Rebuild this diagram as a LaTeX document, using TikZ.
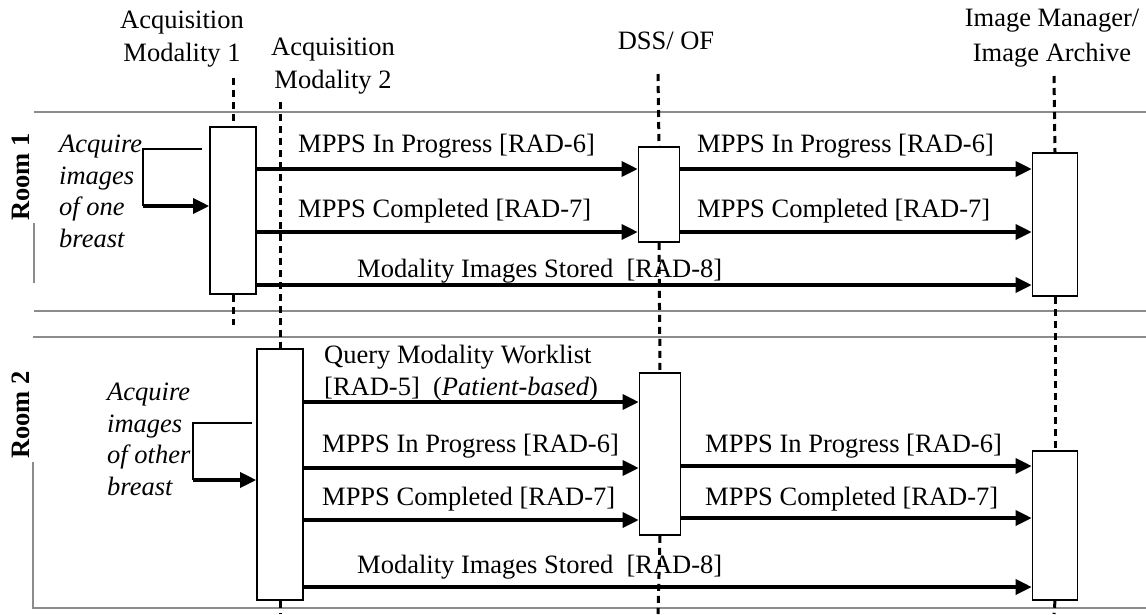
\documentclass[tikz,border=0pt]{standalone}
\usepackage{fontspec}
\setmainfont{Liberation Serif}
\usetikzlibrary{arrows.meta}
\begin{document}
\begin{tikzpicture}[x=1pt,y=-1pt,
  font=\fontsize{26.5}{31.5}\selectfont,
  act/.style={draw,line width=1.6pt,fill=white,inner sep=0pt,minimum width=46pt},
  life/.style={line width=3pt,dash pattern=on 7pt off 5pt},
  msg/.style={line width=3.4pt,-{Triangle[length=16pt,width=15pt]}},
  band/.style={line width=1.6pt,black!45},
  lbl/.style={anchor=base west,inner sep=0pt},
  note/.style={anchor=base west,inner sep=0pt,align=left,font=\fontsize{26.5}{31.5}\selectfont\itshape}]
  \useasboundingbox (0,0) rectangle (1146,614);
  % rooms
  \draw [band] (1146,112) -- (34,112);
  \draw [band] (34,223) -- (34,283);
  \draw [band] (34,311) -- (1146,311);
  \draw [band] (1146,337) -- (33,337);
  \draw [band] (33,462) -- (33,608) -- (1146,608);
  \node [rotate=90,inner sep=0pt,font=\fontsize{26.5}{31.5}\selectfont\bfseries] (room1) at (21,177) {Room 1};
  \node [rotate=90,inner sep=0pt,font=\fontsize{26.5}{31.5}\selectfont\bfseries] (room2) at (21,415) {Room 2};
  % actors
  \node [align=center,inner sep=0pt,font=\fontsize{26.5}{33}\selectfont] (am1name) at (182,39) {Acquisition\\Modality 1};
  \node [align=center,inner sep=0pt,font=\fontsize{26.5}{33}\selectfont] (am2name) at (333,66) {Acquisition\\Modality 2};
  \node [inner sep=0pt] (dssname) at (666,41) {DSS/ OF};
  \node [align=center,inner sep=0pt,font=\fontsize{26.5}{35}\selectfont] (imname) at (1052,38) {Image Manager/\\Image Archive};
  \coordinate (am1top) at (233,78);
  \coordinate (am1bot) at (233,325);
  \coordinate (am2top) at (280,102);
  \coordinate (am2bot) at (280,614);
  \coordinate (dsstop) at (658,74);
  \coordinate (dssbot) at (658,614);
  \coordinate (imtop) at (1054,76);
  \coordinate (imbot) at (1054,614);
  \node [act,minimum height=167pt] (am1) at (233,210.5) {};
  \node [act,minimum height=251pt] (am2) at (280,474.5) {};
  \node [act,minimum width=41pt,minimum height=95pt] (dss1) at (659,194.5) {};
  \node [act,minimum width=41pt,minimum height=162pt] (dss2) at (660,454) {};
  \node [act,minimum width=45pt,minimum height=143pt] (im1) at (1055,224.5) {};
  \node [act,minimum width=45pt,minimum height=149pt] (im2) at (1055,525.5) {};
  \draw [life] (am1top) -- (am1.north);
  \draw [life] (am1.south) -- (am1bot);
  \draw [life] (am2top) -- (am2.north);
  \draw [life] (am2.south) -- (am2bot);
  \draw [life] (dsstop) -- (dss1.north);
  \draw [life] (dss1.south) -- (dss2.north);
  \draw [life] (dss2.south) -- (dssbot);
  \draw [life] (imtop) -- (im1.north);
  \draw [life] (im1.south) -- (im2.north);
  \draw [life] (im2.south) -- (imbot);
  % room 1
  \coordinate (loop1) at (143,149);
  \coordinate (loop1b) at (143,206);
  \draw [line width=1.6pt] ([xshift=-7pt]am1.west |- loop1) -- (loop1) -- (loop1b);
  \draw [msg] (loop1b) -- (am1.west |- loop1b);
  \node [note] (acq1) at (59,247) {Acquire\\images\\of one\\breast};
  \draw [msg] (am1.east |- 0,169) -- (dss1.west |- 0,169);
  \draw [msg] (dss1.east |- 0,169) -- (im1.west |- 0,169);
  \draw [msg] (am1.east |- 0,232) -- (dss1.west |- 0,232);
  \draw [msg] (dss1.east |- 0,232) -- (im1.west |- 0,232);
  \draw [msg] (am1.east |- 0,285) -- (im1.west |- 0,285);
  \node [lbl] (prog1a) at (298,152) {MPPS In Progress [RAD-6]};
  \node [lbl] (prog1b) at (697,152) {MPPS In Progress [RAD-6]};
  \node [lbl] (comp1a) at (298,217) {MPPS Completed [RAD-7]};
  \node [lbl] (comp1b) at (697,217) {MPPS Completed [RAD-7]};
  \node [lbl] (store1) at (357,277) {Modality Images Stored\ \ [RAD-8]};
  % room 2
  \coordinate (loop2) at (193,423);
  \coordinate (loop2b) at (193,480);
  \draw [line width=1.6pt] ([xshift=-4pt]am2.west |- loop2) -- (loop2) -- (loop2b);
  \draw [msg] (loop2b) -- (am2.west |- loop2b);
  \node [note] (acq2) at (107,495) {Acquire\\images\\of other\\breast};
  \draw [msg] (am2.east |- 0,402) -- (dss2.west |- 0,402);
  \draw [msg] (am2.east |- 0,468) -- (dss2.west |- 0,468);
  \draw [msg] (dss2.east |- 0,466) -- (im2.west |- 0,466);
  \draw [msg] (am2.east |- 0,520) -- (dss2.west |- 0,520);
  \draw [msg] (dss2.east |- 0,518) -- (im2.west |- 0,518);
  \draw [msg] (am2.east |- 0,587) -- (im2.west |- 0,587);
  \node [lbl,align=left] (query) at (324,395) {Query Modality Worklist\\{}[RAD-5]\ \ (\textit{Patient-based})};
  \node [lbl] (prog2a) at (322,452) {MPPS In Progress [RAD-6]};
  \node [lbl] (prog2b) at (705,452) {MPPS In Progress [RAD-6]};
  \node [lbl] (comp2a) at (322,505) {MPPS Completed [RAD-7]};
  \node [lbl] (comp2b) at (705,505) {MPPS Completed [RAD-7]};
  \node [lbl] (store2) at (357,573) {Modality Images Stored\ \ [RAD-8]};
\end{tikzpicture}
\end{document}
